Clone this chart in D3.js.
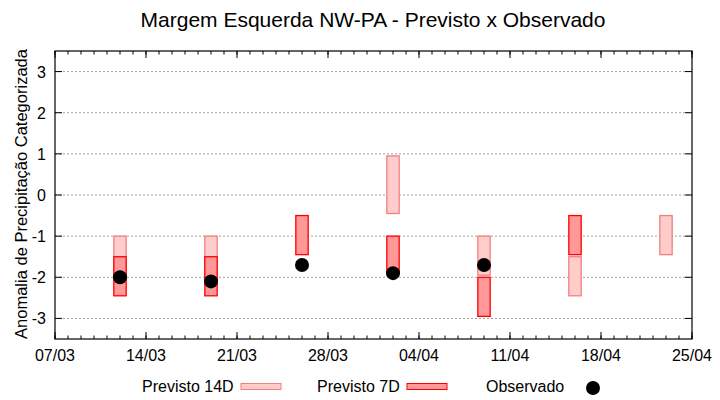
<!DOCTYPE html>
<html>
<head>
<meta charset="utf-8">
<script src="https://cdn.jsdelivr.net/npm/d3@7"></script>
<style>
  body { margin: 0; background: #fff; }
  text { font-family: "Liberation Sans", Arial, sans-serif; fill: #000; }
</style>
</head>
<body>
<svg id="chart" width="720" height="400"></svg>
<script>
// dates of each forecast week
const dates = ["2021-03-12", "2021-03-19", "2021-03-26", "2021-04-02", "2021-04-09", "2021-04-16", "2021-04-23"];
// forecast ranges [top, bottom], null = none
const prev14 = [[-1.0, -2.0], [-1.0, -2.0], null, [0.95, -0.45], [-1.0, -1.95], [-1.5, -2.45], [-0.5, -1.45]];
const prev7 = [[-1.5, -2.45], [-1.5, -2.45], [-0.5, -1.45], [-1.0, -1.9], [-2.0, -2.95], [-0.5, -1.45], null];
// observed anomaly
const observado = [-2.0, -2.1, -1.7, -1.9, -1.7, null, null];
const yTicks = [-3, -2, -1, 0, 1, 2, 3];

const svg = d3.select("#chart");
const mL = 55, mR = 692, mT = 51, mB = 339;
const boxDays = 0.95;
const day = 864e5;
const t0 = Date.UTC(2021, 2, 7), t1 = Date.UTC(2021, 3, 25);

const x = d3.scaleUtc().domain([t0, t1]).range([mL, mR]);
const y = d3.scaleLinear().domain([-3.5, 3.5]).range([mB, mT]);

const xs = dates.map(s => d3.utcParse("%Y-%m-%d")(s).getTime());

// title
svg.append("text")
    .attr("x", 373).attr("y", 27)
    .attr("text-anchor", "middle")
    .style("font-size", "21px")
    .text("Margem Esquerda NW-PA - Previsto x Observado");

// grid
svg.append("g")
    .selectAll("line")
    .data(yTicks)
    .join("line")
    .attr("x1", mL).attr("x2", mR)
    .attr("y1", d => y(d)).attr("y2", d => y(d))
    .attr("stroke", "#a0a0a0")
    .attr("stroke-dasharray", "2,2");

// boxes
function boxes(data, fill, stroke) {
    svg.append("g")
        .selectAll("rect")
        .data(data.map((r, i) => ({ r, t: xs[i] })).filter(d => d.r))
        .join("rect")
        .attr("x", d => x(d.t - boxDays / 2 * day))
        .attr("width", d => x(d.t + boxDays / 2 * day) - x(d.t - boxDays / 2 * day))
        .attr("y", d => y(d.r[0]))
        .attr("height", d => y(d.r[1]) - y(d.r[0]))
        .attr("fill", fill)
        .attr("stroke", stroke)
        .attr("stroke-width", 1.3);
}
boxes(prev14, "#ffcccc", "#f08080");
boxes(prev7, "#ff9999", "#ff0000");

// observed points
svg.append("g")
    .selectAll("circle")
    .data(observado.map((v, i) => ({ v, t: xs[i] })).filter(d => d.v != null))
    .join("circle")
    .attr("cx", d => x(d.t))
    .attr("cy", d => y(d.v))
    .attr("r", 7)
    .attr("fill", "#000");

// axes
const allDays = d3.utcDay.range(t0, t1 + day);
const xMajor = allDays.filter(d => Math.round((d - t0) / day) % 7 === 0);
const fmt = d3.utcFormat("%d/%m");

const g = svg.append("g").attr("stroke", "#000");
function vticks(data, yy, len) {
    g.append("g").selectAll("line").data(data).join("line")
        .attr("x1", d => x(d)).attr("x2", d => x(d))
        .attr("y1", yy).attr("y2", yy + len);
}
vticks(allDays, mB, -3.5);
vticks(allDays, mT, 3.5);
vticks(xMajor, mB, -7);
vticks(xMajor, mT, 7);
g.append("g").selectAll("line").data(yTicks).join("line")
    .attr("x1", mL).attr("x2", mL + 7)
    .attr("y1", d => y(d)).attr("y2", d => y(d));
g.append("g").selectAll("line").data(yTicks).join("line")
    .attr("x1", mR).attr("x2", mR - 7)
    .attr("y1", d => y(d)).attr("y2", d => y(d));

svg.append("rect")
    .attr("x", mL).attr("y", mT)
    .attr("width", mR - mL).attr("height", mB - mT)
    .attr("fill", "none").attr("stroke", "#000").attr("stroke-width", 1.2);

svg.append("g").selectAll("text").data(xMajor).join("text")
    .attr("x", d => x(d)).attr("y", mB + 22)
    .attr("text-anchor", "middle")
    .style("font-size", "16px")
    .text(d => fmt(d));

svg.append("g").selectAll("text").data(yTicks).join("text")
    .attr("x", 46).attr("y", d => y(d) + 6)
    .attr("text-anchor", "end")
    .style("font-size", "16px")
    .text(d => d);

svg.append("text")
    .attr("transform", "translate(27,194) rotate(-90)")
    .attr("text-anchor", "middle")
    .style("font-size", "16.5px")
    .text("Anomalia de Precipitação Categorizada");

// legend
const leg = svg.append("g").style("font-size", "16px");
leg.append("text").attr("x", 142).attr("y", 392).text("Previsto 14D");
leg.append("rect").attr("x", 241).attr("y", 383.5).attr("width", 40).attr("height", 6)
    .attr("fill", "#ffcccc").attr("stroke", "#f08080");
leg.append("text").attr("x", 317).attr("y", 392).text("Previsto 7D");
leg.append("rect").attr("x", 407).attr("y", 383.5).attr("width", 40).attr("height", 6)
    .attr("fill", "#ff9999").attr("stroke", "#ff0000");
leg.append("text").attr("x", 486).attr("y", 392).text("Observado");
leg.append("circle").attr("cx", 593).attr("cy", 388).attr("r", 7).attr("fill", "#000");
</script>
</body>
</html>
